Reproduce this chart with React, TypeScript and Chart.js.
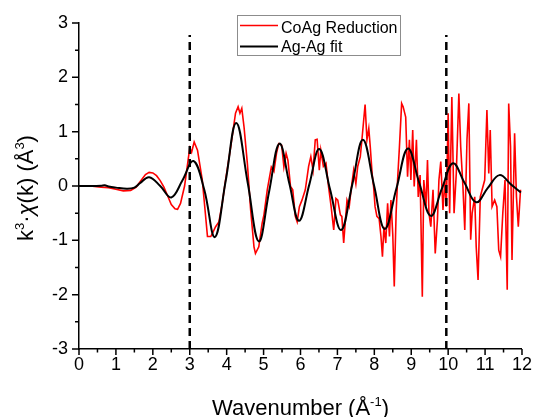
import React, { useEffect, useRef } from "react";
import { Chart, registerables } from "chart.js";

Chart.register(...registerables);

const FONT = "'Liberation Sans', Arial, sans-serif";

// Measured spectrum (CoAg Reduction)
const reductionK = [
  0, 0.3, 0.6, 0.8, 1.0, 1.2, 1.4, 1.55, 1.7, 1.8, 1.9, 2.0, 2.1, 2.2, 2.3, 2.4, 2.5, 2.6, 2.67, 2.75,
  2.86, 2.95, 3.0, 3.05, 3.12, 3.21, 3.34, 3.48, 3.57, 3.63, 3.7, 3.79, 3.88, 3.97, 4.11, 4.24, 4.31, 4.36, 4.41, 4.47,
  4.56, 4.65, 4.74, 4.78, 4.87, 4.96, 5.01, 5.1, 5.21, 5.28, 5.35, 5.41, 5.49, 5.55, 5.61, 5.66, 5.73, 5.79, 5.86, 5.91,
  5.97, 6.04, 6.13, 6.22, 6.28, 6.34, 6.4, 6.45, 6.51, 6.55, 6.62, 6.69, 6.76, 6.83, 6.9, 6.96, 7.01, 7.08, 7.12, 7.17,
  7.21, 7.26, 7.32, 7.37, 7.44, 7.5, 7.55, 7.62, 7.68, 7.75, 7.8, 7.85, 7.89, 7.94, 7.98, 8.02, 8.07, 8.13, 8.18, 8.22,
  8.26, 8.31, 8.36, 8.41, 8.45, 8.5, 8.54, 8.59, 8.63, 8.68, 8.74, 8.78, 8.85, 8.9, 8.95, 8.99, 9.04, 9.08, 9.14, 9.19,
  9.24, 9.3, 9.34, 9.4, 9.44, 9.48, 9.53, 9.59, 9.65, 9.71, 9.75, 9.8, 9.86, 9.91, 9.95, 10.0, 10.04, 10.1, 10.16, 10.22,
  10.29, 10.34, 10.4, 10.45, 10.51, 10.56, 10.61, 10.65, 10.72, 10.76, 10.81, 10.87, 10.92, 10.99, 11.05, 11.1, 11.14, 11.19, 11.26, 11.32,
  11.37, 11.42, 11.48, 11.54, 11.6, 11.64, 11.69, 11.73, 11.8, 11.85, 11.9, 11.96,
];
const reductionChi = [
  0, 0, -0.02, -0.03, -0.06, -0.09, -0.08, -0.02, 0.12, 0.21, 0.25, 0.24, 0.19, 0.1, -0.02, -0.18, -0.34, -0.42, -0.43, -0.32,
  0.0, 0.45, 0.7, 0.62, 0.81, 0.66, 0.11, -0.93, -0.93, -0.85, -0.75, -0.66, -0.32, 0.11, 0.72, 1.34, 1.46, 1.34, 1.43, 1.09,
  0.42, -0.44, -1.12, -1.24, -1.12, -0.69, -0.53, -0.07, 0.35, 0.27, 0.6, 0.78, 0.75, 0.35, 0.6, 0.47, -0.01, -0.07, -0.56, -0.66,
  -0.38, -0.26, -0.07, 0.36, 0.54, 0.29, 0.85, 0.86, 0.29, 0.66, 0.36, 0.42, -0.01, -0.38, -0.81, -0.23, -0.26, -0.53, -0.56, -1.05,
  -0.69, -0.26, -0.38, -0.07, 0.29, 0.04, 0.36, 0.54, 0.97, 1.5, 0.85, 1.06, 0.72, 0.23, -0.01, -0.38, -0.56, -0.6, -0.93, -1.3,
  -0.75, -1.05, -0.32, -0.93, -0.26, -0.9, -1.85, -0.5, 0.11, 0.72, 1.52, 1.46, 1.27, 0.17, 0.85, 0.11, 1.03, -0.01, 0.85, -0.2,
  0.2, -2.04, 0.11, -0.38, 0.48, -0.5, -0.75, -0.07, -1.24, -0.62, 0.11, 0.45, -0.44, 0.11, -0.38, 1.34, -0.5, 1.64, -0.5, 0.23,
  1.7, 0.72, -0.01, -0.81, 0.85, 1.52, -0.99, -0.5, -0.2, -1.12, -1.73, -0.2, -0.07, 0.11, 1.4, 0.23, 1.03, -0.38, -0.26, -0.38,
  -1.18, -1.3, -0.5, 0.11, -1.91, 1.52, 0.72, -1.36, 0.97, -0.2, -0.75, -0.07,
];

// Ag-Ag fit (smooth curve)
const fitK = [
  0, 0.3, 0.6, 0.7, 0.8, 1.0, 1.3, 1.5, 1.65, 1.9, 2.2, 2.5, 2.8, 3.1, 3.39, 3.68, 3.97, 4.26, 4.57, 4.87,
  5.15, 5.43, 5.7, 5.96, 6.24, 6.51, 6.8, 7.1, 7.4, 7.69, 7.99, 8.28, 8.6, 8.91, 9.22, 9.53, 9.83, 10.13, 10.45, 10.76,
  11.07, 11.39, 11.7, 11.97,
];
const fitChi = [
  0, 0, 0.005, 0.012, -0.01, -0.03, -0.05, -0.03, 0.05, 0.16, 0.0, -0.21, 0.1, 0.46, -0.06, -0.94, 0.08, 1.16, 0.06, -1.02,
  -0.1, 0.78, 0.04, -0.64, 0.03, 0.68, -0.06, -0.81, 0.02, 0.85, 0.02, -0.79, -0.04, 0.69, 0.05, -0.55, -0.05, 0.42, 0.05, -0.3,
  -0.04, 0.2, 0.03, -0.12,
];

// Dashed fit-window markers
const windowK = [3.0, 9.95];
const windowChi = [-3, 2.78];

const xMajor = [0, 1, 2, 3, 4, 5, 6, 7, 8, 9, 10, 11, 12];
const yMajor = [-3, -2, -1, 0, 1, 2, 3];

const seriesNames = ["CoAg Reduction", "Ag-Ag fit"];

const decorPlugin = {
  id: "decor",
  afterDraw(chart: any) {
    const ctx: CanvasRenderingContext2D = chart.ctx;
    const xs = chart.scales.x;
    const ys = chart.scales.y;
    const area = chart.chartArea;
    ctx.save();
    // ticks
    ctx.strokeStyle = "#000";
    ctx.lineWidth = 1.5;
    ctx.beginPath();
    const xb = area.bottom;
    for (let i = 0; i < xMajor.length; i++) {
      const px = xs.getPixelForValue(xMajor[i]);
      ctx.moveTo(px, xb);
      ctx.lineTo(px, xb + 6);
      if (i < xMajor.length - 1) {
        const pm = xs.getPixelForValue((xMajor[i] + xMajor[i + 1]) / 2);
        ctx.moveTo(pm, xb);
        ctx.lineTo(pm, xb + 3.5);
      }
    }
    const yl = area.left;
    for (let i = 0; i < yMajor.length; i++) {
      const py = ys.getPixelForValue(yMajor[i]);
      ctx.moveTo(yl, py);
      ctx.lineTo(yl - 7, py);
      if (i < yMajor.length - 1) {
        const pm = ys.getPixelForValue((yMajor[i] + yMajor[i + 1]) / 2);
        ctx.moveTo(yl, pm);
        ctx.lineTo(yl - 4, pm);
      }
    }
    ctx.stroke();

    // x title
    ctx.fillStyle = "#000";
    ctx.textBaseline = "alphabetic";
    ctx.textAlign = "left";
    const big = `22px ${FONT}`;
    const small = `13px ${FONT}`;
    const xParts: [string, string, number][] = [
      ["Wavenumber (\u00C5", big, 0],
      ["-1", small, -9],
      [")", big, 0],
    ];
    let total = 0;
    for (const [t, f] of xParts) {
      ctx.font = f;
      total += ctx.measureText(t).width;
    }
    let cx = (area.left + area.right) / 2 - total / 2;
    for (const [t, f, dy] of xParts) {
      ctx.font = f;
      ctx.fillText(t, cx, 415 + dy);
      cx += ctx.measureText(t).width;
    }

    // y title
    const yParts: [string, string, number][] = [
      ["k", big, 0],
      ["3", small, -9],
      ["\u00B7", big, 0],
      ["\u03C7", `italic 22px ${FONT}`, 0],
      ["(k) (\u00C5", big, 0],
      ["3", small, -9],
      [")", big, 0],
    ];
    total = 0;
    for (const [t, f] of yParts) {
      ctx.font = f;
      total += ctx.measureText(t).width;
    }
    ctx.translate(33, (area.top + area.bottom) / 2 + 2);
    ctx.rotate(-Math.PI / 2);
    cx = -total / 2;
    for (const [t, f, dy] of yParts) {
      ctx.font = f;
      ctx.fillText(t, cx, dy);
      cx += ctx.measureText(t).width;
    }
    ctx.setTransform(1, 0, 0, 1, 0, 0);

    // legend
    ctx.strokeStyle = "#8c8c8c";
    ctx.lineWidth = 1;
    ctx.strokeRect(237.5, 15.5, 163, 40);
    const ds = chart.data.datasets;
    const rows = [
      { color: ds[3].borderColor, width: 1.6, y: 25.5, label: seriesNames[0], base: 32.5 },
      { color: ds[2].borderColor, width: 2, y: 46.5, label: seriesNames[1], base: 52 },
    ];
    ctx.font = `16px ${FONT}`;
    for (const r of rows) {
      ctx.strokeStyle = r.color;
      ctx.lineWidth = r.width;
      ctx.beginPath();
      ctx.moveTo(240, r.y);
      ctx.lineTo(278, r.y);
      ctx.stroke();
      ctx.fillStyle = "#000";
      ctx.fillText(r.label, 281, r.base);
    }
    ctx.restore();
  },
};

export default function App() {
  const ref = useRef<HTMLCanvasElement | null>(null);
  useEffect(() => {
    if (!ref.current) return;
    const red = reductionK.map((k, i) => ({ x: k, y: reductionChi[i] }));
    const fit = fitK.map((k, i) => ({ x: k, y: fitChi[i] }));
    const dashA = windowChi.map((c) => ({ x: windowK[0], y: c }));
    const dashB = windowChi.map((c) => ({ x: windowK[1], y: c }));
    const dashStyle = {
      borderColor: "#000",
      borderWidth: 2.5,
      borderDash: [8, 5],
      pointRadius: 0,
      fill: false,
    };
    const chart = new Chart(ref.current, {
      type: "line",
      data: {
        datasets: [
          { label: "win1", data: dashA, ...dashStyle },
          { label: "win2", data: dashB, ...dashStyle },
          {
            label: seriesNames[1],
            data: fit,
            borderColor: "#000000",
            borderWidth: 2,
            pointRadius: 0,
            tension: 0.4,
            fill: false,
          },
          {
            label: seriesNames[0],
            data: red,
            borderColor: "#ff0000",
            borderWidth: 1.6,
            pointRadius: 0,
            tension: 0,
            fill: false,
          },
        ],
      },
      options: {
        animation: false,
        responsive: false,
        maintainAspectRatio: false,
        layout: { padding: { left: 0, right: 13, top: 23, bottom: 0 } },
        plugins: {
          legend: { display: false },
          tooltip: { enabled: false },
        },
        scales: {
          x: {
            type: "linear",
            min: 0,
            max: 12,
            grid: { drawOnChartArea: false, drawTicks: false },
            border: { display: true, color: "#000", width: 1.5 },
            ticks: {
              stepSize: 1,
              padding: 5,
              color: "#000",
              font: { family: FONT, size: 18 },
              maxRotation: 0,
            },
            afterFit: (s: any) => {
              s.height = 68;
            },
          },
          y: {
            type: "linear",
            min: -3,
            max: 3,
            grid: { drawOnChartArea: false, drawTicks: false },
            border: { display: true, color: "#000", width: 1.5 },
            ticks: {
              stepSize: 1,
              padding: 11,
              color: "#000",
              font: { family: FONT, size: 18 },
            },
            afterFit: (s: any) => {
              s.width = 79;
            },
          },
        },
      },
      plugins: [decorPlugin],
    });
    return () => chart.destroy();
  }, []);
  return (
    <div style={{ position: "absolute", left: 0, top: 0, width: 537, height: 417, background: "#fff" }}>
      <canvas ref={ref} width={537} height={417} style={{ display: "block" }} />
    </div>
  );
}
